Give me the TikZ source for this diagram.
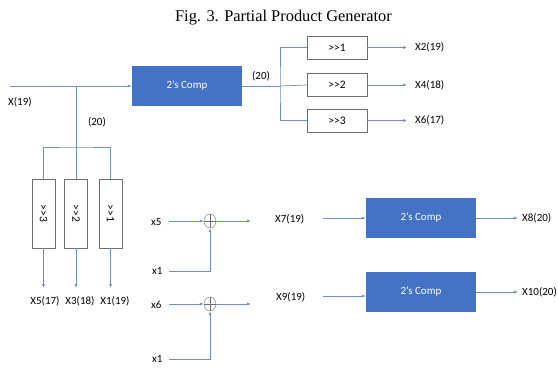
\documentclass[tikz,border=0pt]{standalone}
\usepackage{fontspec}
\setmainfont{Carlito}
\newfontfamily\titlefont{Liberation Serif}
\usetikzlibrary{arrows.meta,positioning,shapes.geometric}

\definecolor{compblue}{HTML}{4472C4}
\definecolor{wireblue}{RGB}{112,142,192}
\definecolor{boxgray}{RGB}{110,110,110}

\tikzset{
  comp/.style={fill=compblue, minimum width=110pt, minimum height=40pt,
    text=white, inner sep=0pt, font=\fontsize{11}{12}\selectfont},
  shiftbox/.style={draw=boxgray, fill=white, minimum width=60pt, minimum height=23pt,
    inner sep=0pt, font=\fontsize{11.5}{12}\selectfont},
  vshiftbox/.style={shiftbox, minimum width=69pt, rotate=-90},
  xorgate/.style={ellipse, draw=boxgray, minimum width=12pt, minimum height=14pt, inner sep=0pt,
    path picture={\draw[boxgray] (path picture bounding box.north) -- (path picture bounding box.south)
      (path picture bounding box.west) -- (path picture bounding box.east);}},
  wire/.style={draw=wireblue, line width=0.7pt},
  arr/.style={wire, -{Latex[length=4pt,width=3pt]}},
  lbl/.style={inner sep=0pt, font=\fontsize{11}{12}\selectfont},
}

\begin{document}
\begin{tikzpicture}[x=1pt,y=-1pt]
\useasboundingbox (0,0) rectangle (558,368);

\node[anchor=base] (title) at (283.5,21) {\titlefont\fontsize{16.4}{18}\selectfont Fig. 3. Partial Product Generator};

% input and first complement
\coordinate (xin) at (10,86);
\node[comp] (comp1) at (187,86) {2’s Comp};
\node[lbl, anchor=west] (xlbl) at (8,102) {X(19)};
\draw[arr] (xin) -- (comp1.west);

% left branch with the vertical shifters
\coordinate (tap) at (76,86);
\coordinate (bus) at (76,147);
\node[lbl] (w20a) at (97,122) {(20)};
\node[vshiftbox] (v3) at (43.5,213.5) {>{}>3};
\node[vshiftbox] (v2) at (76,213.5) {>{}>2};
\node[vshiftbox] (v1) at (110.5,213.5) {>{}>1};
\draw[wire] (tap) -- (bus);
\draw[wire] (v3.west) |- (bus) -| (v1.west);
\draw[wire] (bus) -- (v2.west);
\coordinate (o3) at (43.5,288);
\coordinate (o2) at (76,288);
\coordinate (o1) at (110.5,288);
\draw[arr] (v3.east) -- (o3);
\draw[arr] (v2.east) -- (o2);
\draw[arr] (v1.east) -- (o1);
\node[lbl] (x5lbl) at (45,301) {X5(17)};
\node[lbl] (x3lbl) at (80,301) {X3(18)};
\node[lbl] (x1lbl) at (115,301) {X1(19)};

% right branch with the horizontal shifters
\coordinate (split) at (280,86);
\node[lbl] (w20b) at (261,76) {(20)};
\node[shiftbox] (s1) at (337,47.5) {>{}>1};
\node[shiftbox] (s2) at (337,85) {>{}>2};
\node[shiftbox] (s3) at (337,120.5) {>{}>3};
\draw[wire] (comp1.east) -- (split);
\draw[wire] (s1.west) -| (split) |- (s3.west);
\draw[wire] (split) -- (s2.west);
\foreach \s/\y/\t in {s1/47.5/X2(19), s2/85/X4(18), s3/120.5/X6(17)} {
  \coordinate (\s out) at (407,\y);
  \draw[arr] (\s.east) -- (\s out);
  \node[lbl, anchor=west] (\s lbl) at (415,\y) {\t};
}

% adders
\node[xorgate] (xor1) at (210,221) {};
\node[xorgate] (xor2) at (210,304) {};
\node[lbl, anchor=west] (x5in) at (151,222) {x5};
\node[lbl, anchor=west] (x1ina) at (152,271) {x1};
\node[lbl, anchor=west] (x6in) at (151,305) {x6};
\node[lbl, anchor=west] (x1inb) at (152,359) {x1};
\coordinate (a1) at (169,221);
\coordinate (a2) at (169,271);
\coordinate (b1) at (169,304);
\coordinate (b2) at (169,359);
\coordinate (y1) at (251,221);
\coordinate (y2) at (251,304);
\draw[arr] (a1) -- (xor1.west);
\draw[arr] (a2) -| (xor1.south);
\draw[arr] (xor1.east) -- (y1);
\draw[arr] (b1) -- (xor2.west);
\draw[arr] (b2) -| (xor2.south);
\draw[arr] (xor2.east) -- (y2);

% second and third complement
\node[comp] (comp2) at (421,218) {2’s Comp};
\node[comp] (comp3) at (421,292) {2’s Comp};
\node[lbl, anchor=west] (x7lbl) at (275,219) {X7(19)};
\node[lbl, anchor=west] (x9lbl) at (276,297) {X9(19)};
\coordinate (c2in) at (323,218);
\coordinate (c3in) at (323,296);
\draw[arr] (c2in) -- (comp2.west);
\draw[arr] (c3in) -- (c3in -| comp3.west);
\coordinate (c2out) at (518,218);
\coordinate (c3out) at (518,292);
\draw[arr] (comp2.east) -- (c2out);
\draw[arr] (comp3.east) -- (c3out);
\node[lbl, anchor=west] (x8lbl) at (522,218) {X8(20)};
\node[lbl, anchor=west] (x10lbl) at (522,292) {X10(20)};
\end{tikzpicture}
\end{document}
